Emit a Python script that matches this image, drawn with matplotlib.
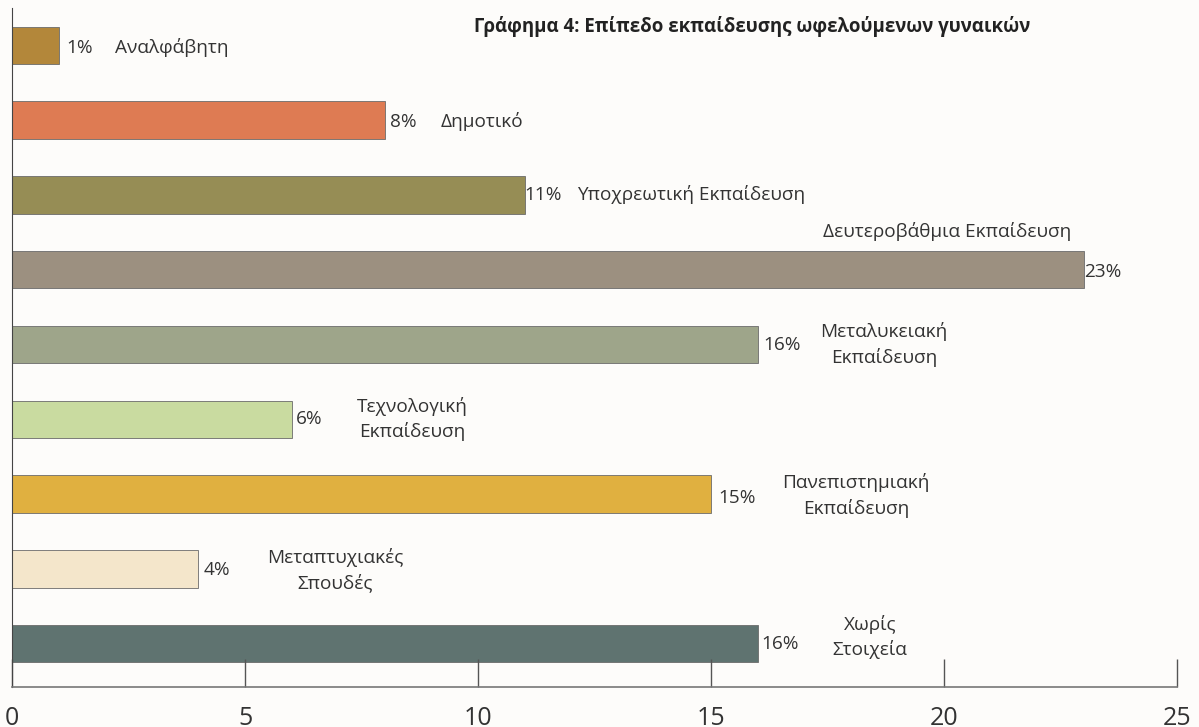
import matplotlib
matplotlib.use("Agg")
import matplotlib.pyplot as plt

plt.rcParams["font.family"] = ["Open Sans", "DejaVu Sans"]

categories = ["Αναλφάβητη", "Δημοτικό", "Υποχρεωτική Εκπαίδευση",
              "Δευτεροβάθμια Εκπαίδευση", "Μεταλυκειακή\nΕκπαίδευση",
              "Τεχνολογική\nΕκπαίδευση", "Πανεπιστημιακή\nΕκπαίδευση",
              "Μεταπτυχιακές\nΣπουδές", "Χωρίς\nΣτοιχεία"]
values = [1, 8, 11, 23, 16, 6, 15, 4, 16]
colors = ["#B3873A", "#DE7B53", "#968D55", "#9C9080", "#9EA58A",
          "#C9DBA0", "#E0B040", "#F4E6CB", "#5F7370"]
title = "Γράφημα 4: Επίπεδο εκπαίδευσης ωφελούμενων γυναικών"

# label placement relative to bar end (data units)
val_dx = [0.17, 0.12, 0.0, 0.0, 0.13, 0.09, 0.16, 0.11, 0.09]
val_dy = [0.03, 0.02, 0.0, 0.03, 0.0, 0.0, 0.05, 0.02, 0.0]
cat_pos = [(1.22, 0.03, "left"), (1.20, 0.02, "left"), (1.12, 0.0, "left"),
           (-2.94, -0.51, "center"), (2.71, 0.0, "center"),
           (2.58, 0.0, "center"), (3.11, 0.02, "center"),
           (2.93, 0.02, "center"), (2.41, -0.09, "center")]

bg = "#FDFCFA"
txt = "#333333"

fig = plt.figure(figsize=(11.99, 7.27), dpi=100, facecolor=bg)
ax = fig.add_axes([0.010, 0.055, 0.9717, 0.934], facecolor=bg)

ypos = list(range(len(values)))
ax.barh(ypos, values, height=0.5, color=colors, edgecolor="#6b6b6b", linewidth=0.6)

for i, (v, c) in enumerate(zip(values, categories)):
    ax.text(v + val_dx[i], i + val_dy[i], f"{v}%", ha="left", va="center",
            fontsize=13.7, color=txt)
    dx, dy, ha = cat_pos[i]
    ax.text(v + dx, i + dy, c, ha=ha, va="center", fontsize=13.7,
            color=txt, linespacing=1.42, multialignment="center")

ax.set_xlim(0, 25)
ax.set_ylim(8.58, -0.5)
ax.set_yticks([])
ax.set_xticks(range(0, 26, 5))
ax.tick_params(axis="x", direction="in", length=20, width=1.0, color="#555555",
               labelsize=18, pad=14, labelcolor=txt)
for s in ["top", "right"]:
    ax.spines[s].set_visible(False)
ax.spines["left"].set_color("#444444")
ax.spines["bottom"].set_color("#777777")
ax.spines["bottom"].set_linewidth(1.2)

ax.text(0.627, 0.963, title, transform=fig.transFigure, ha="center", va="center",
        fontsize=13.4, fontweight="bold", color="#222222")

fig.savefig("out.png", dpi=100, facecolor=bg)
